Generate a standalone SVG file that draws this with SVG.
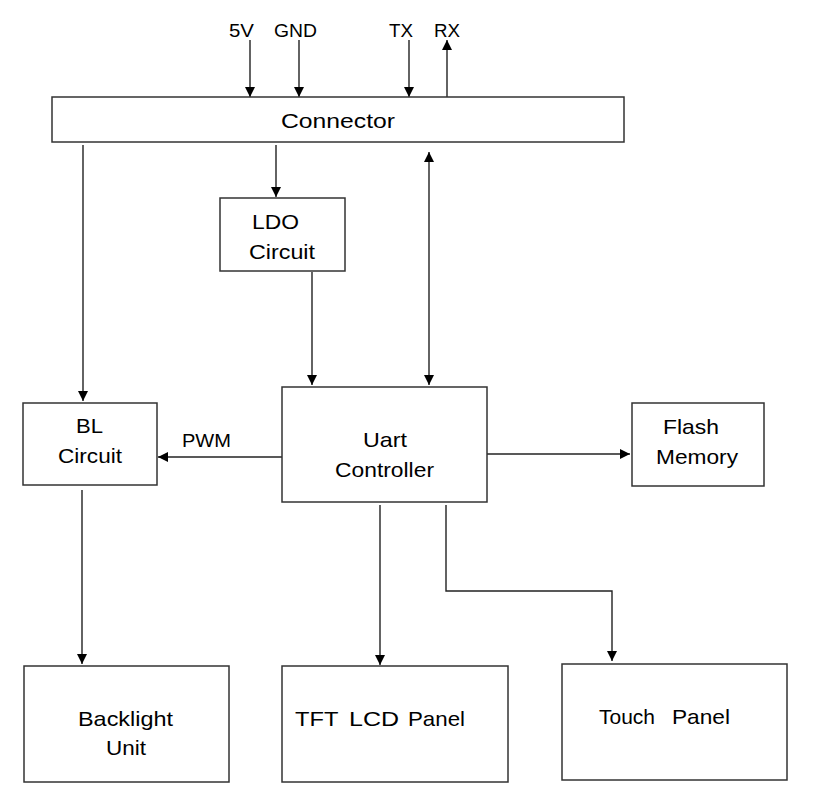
<svg xmlns="http://www.w3.org/2000/svg" width="819" height="806" viewBox="0 0 819 806">
<style>
.box{fill:#fff;stroke:#333;stroke-width:1.5}
.t{font-family:"Liberation Sans",Arial,sans-serif;font-size:21px;fill:#000}
.s{font-family:"Liberation Sans",Arial,sans-serif;font-size:18px;fill:#000}
.c{fill:none;stroke:#222;stroke-width:1.4}
</style>
<defs>
<marker id="ah" viewBox="0 0 10 10" refX="10" refY="5" markerWidth="10" markerHeight="10" markerUnits="userSpaceOnUse" orient="auto-start-reverse">
<path d="M0,0 L10,5 L0,10 z" fill="#000"/>
</marker>
</defs>
<rect width="819" height="806" fill="#fff"/>
<g id="connectors">
<line class="c" x1="250" y1="40" x2="250" y2="97" marker-end="url(#ah)"/>
<line class="c" x1="299" y1="40" x2="299" y2="97" marker-end="url(#ah)"/>
<line class="c" x1="409" y1="40" x2="409" y2="97" marker-end="url(#ah)"/>
<line class="c" x1="447" y1="97" x2="447" y2="40" marker-end="url(#ah)"/>
<line class="c" x1="83" y1="145" x2="83" y2="401" marker-end="url(#ah)"/>
<line class="c" x1="276" y1="145" x2="276" y2="197" marker-end="url(#ah)"/>
<line class="c" x1="429" y1="152" x2="429" y2="385" marker-start="url(#ah)" marker-end="url(#ah)"/>
<line class="c" x1="312" y1="272" x2="312" y2="385" marker-end="url(#ah)"/>
<line class="c" x1="282" y1="457" x2="158" y2="457" marker-end="url(#ah)"/>
<line class="c" x1="487" y1="454" x2="630" y2="454" marker-end="url(#ah)"/>
<line class="c" x1="82" y1="490" x2="82" y2="664" marker-end="url(#ah)"/>
<line class="c" x1="380" y1="505" x2="380" y2="665" marker-end="url(#ah)"/>
<polyline class="c" points="446,505 446,591 612,591 612,661" marker-end="url(#ah)"/>
<text class="s" x="182" y="447" textLength="49" lengthAdjust="spacingAndGlyphs">PWM</text>
</g>
<g id="pins">
<text class="s" x="229" y="37" textLength="25" lengthAdjust="spacingAndGlyphs">5V</text>
<text class="s" x="274" y="37" textLength="43" lengthAdjust="spacingAndGlyphs">GND</text>
<text class="s" x="389" y="37" textLength="24" lengthAdjust="spacingAndGlyphs">TX</text>
<text class="s" x="434" y="37" textLength="26" lengthAdjust="spacingAndGlyphs">RX</text>
</g>
<g id="connector">
<rect class="box" x="52" y="97" width="572" height="45"/>
<text class="t" x="281" y="128" textLength="114" lengthAdjust="spacingAndGlyphs">Connector</text>
</g>
<g id="ldo">
<rect class="box" x="220" y="198" width="125" height="73"/>
<text class="t" x="252" y="229" textLength="47" lengthAdjust="spacingAndGlyphs">LDO</text>
<text class="t" x="249" y="259" textLength="66" lengthAdjust="spacingAndGlyphs">Circuit</text>
</g>
<g id="bl">
<rect class="box" x="23" y="403" width="134" height="82"/>
<text class="t" x="76" y="433" textLength="27" lengthAdjust="spacingAndGlyphs">BL</text>
<text class="t" x="58" y="463" textLength="64" lengthAdjust="spacingAndGlyphs">Circuit</text>
</g>
<g id="uart">
<rect class="box" x="282" y="387" width="205" height="115"/>
<text class="t" x="363" y="447" textLength="44" lengthAdjust="spacingAndGlyphs">Uart</text>
<text class="t" x="335" y="477" textLength="99" lengthAdjust="spacingAndGlyphs">Controller</text>
</g>
<g id="flash">
<rect class="box" x="632" y="403" width="132" height="83"/>
<text class="t" x="663" y="434" textLength="56" lengthAdjust="spacingAndGlyphs">Flash</text>
<text class="t" x="656" y="464" textLength="82" lengthAdjust="spacingAndGlyphs">Memory</text>
</g>
<g id="backlight">
<rect class="box" x="24" y="666" width="205" height="116"/>
<text class="t" x="78" y="726" textLength="95" lengthAdjust="spacingAndGlyphs">Backlight</text>
<text class="t" x="106" y="755" textLength="40" lengthAdjust="spacingAndGlyphs">Unit</text>
</g>
<g id="tft">
<rect class="box" x="282" y="666" width="226" height="116"/>
<text class="t" y="726"><tspan x="295" textLength="43" lengthAdjust="spacingAndGlyphs">TFT</tspan> <tspan x="349" textLength="50" lengthAdjust="spacingAndGlyphs">LCD</tspan> <tspan x="408" textLength="57" lengthAdjust="spacingAndGlyphs">Panel</tspan></text>
</g>
<g id="touch">
<rect class="box" x="562" y="664" width="225" height="116"/>
<text class="t" y="724"><tspan x="599" textLength="56" lengthAdjust="spacingAndGlyphs">Touch</tspan> <tspan x="672" textLength="58" lengthAdjust="spacingAndGlyphs">Panel</tspan></text>
</g>
</svg>
